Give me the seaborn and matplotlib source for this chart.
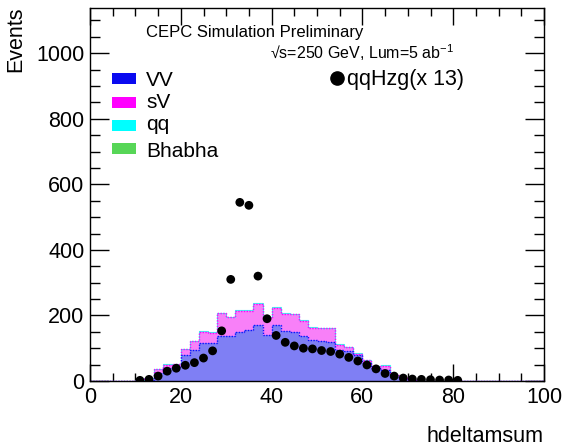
import numpy as np
import pandas as pd
import matplotlib
matplotlib.use("Agg")
import matplotlib.pyplot as plt
import seaborn as sns
from matplotlib.patches import Rectangle
from matplotlib.lines import Line2D
from matplotlib.ticker import MultipleLocator

# Binning: 50 bins of width 2 between 0 and 100
edges = list(range(0, 101, 2))
centers = [e + 1 for e in edges[:-1]]

# Background yields per bin
vv = [0, 0, 0, 0, 0, 1, 4, 25, 40, 42,
      78, 95, 115, 115, 138, 136, 151, 156, 172, 140,
      172, 153, 148, 136, 125, 122, 120, 95, 92, 78,
      56, 41, 35, 13, 5, 2, 1, 0, 0, 0,
      0, 0, 0, 0, 0, 0, 0, 0, 0, 0]
sv = [0, 0, 0, 0, 0, 1, 4, 11, 10, 10,
      20, 27, 35, 31, 68, 58, 63, 59, 64, 53,
      52, 52, 55, 48, 38, 39, 42, 16, 11, 5,
      7, 4, 12, 4, 4, 1, 0, 0, 0, 0,
      0, 0, 0, 0, 0, 0, 0, 0, 0, 0]
qq = [0, 0, 0, 0, 0, 0, 0, 1, 1, 1,
      1, 1, 2, 2, 2, 2, 2, 2, 2, 2,
      2, 2, 2, 2, 1, 1, 1, 1, 1, 1,
      1, 1, 1, 1, 0, 0, 0, 0, 0, 0,
      0, 0, 0, 0, 0, 0, 0, 0, 0, 0]

# Signal qqHzg scaled by 13
sig = [0, 0, 0, 0, 0, 2, 5, 15, 30, 39,
       48, 56, 70, 92, 153, 310, 545, 536, 320, 190,
       139, 118, 107, 100, 98, 93, 90, 82, 72, 61,
       49, 37, 23, 15, 9, 6, 5, 4, 3, 3,
       2, 0, 0, 0, 0, 0, 0, 0, 0, 0]

legend_names = ["VV", "sV", "qq", "Bhabha"]
legend_colors = ["#0a0af0", "#ff00ff", "#00ffff", "#57d657"]
fill_colors = {"VV": "#7f7ff4", "sV": "#f880f8", "qq": "#80f7f7"}

sns.set_theme(style="ticks")
plt.rcParams["font.family"] = ["Liberation Sans", "DejaVu Sans"]
plt.rcParams["mathtext.fontset"] = "custom"
plt.rcParams["mathtext.rm"] = "Liberation Sans"
plt.rcParams["mathtext.it"] = "Liberation Sans:italic"
plt.rcParams["text.color"] = "black"
plt.rcParams["axes.edgecolor"] = "black"
plt.rcParams["xtick.color"] = "black"
plt.rcParams["ytick.color"] = "black"

W, H = 563, 447
def fx(px):
    return px / W
def fy(py):
    return 1 - py / H

fig = plt.figure(figsize=(W / 100, H / 100), dpi=100)
ax = fig.add_axes([fx(90), fy(381), (544 - 90) / W, (381 - 8) / H])

df = pd.concat([
    pd.DataFrame({"x": centers, "n": vv, "proc": "VV"}),
    pd.DataFrame({"x": centers, "n": sv, "proc": "sV"}),
    pd.DataFrame({"x": centers, "n": qq, "proc": "qq"}),
], ignore_index=True)
sns.histplot(data=df, x="x", weights="n", hue="proc",
             hue_order=["qq", "sV", "VV"], multiple="stack",
             bins=edges, element="step", palette=fill_colors,
             alpha=1, linewidth=0, legend=False, ax=ax)

# outlines of each stacked layer
cum_vv = np.array(vv)
cum_sv = cum_vv + np.array(sv)
cum_qq = cum_sv + np.array(qq)
ax.stairs(cum_qq, edges, color="#40f0f0", lw=0.8)
ax.stairs(cum_sv, edges, color="#ff00ff", lw=1, ls=(0, (1, 1)))
ax.stairs(cum_vv, edges, color="#1010ff", lw=1, ls=(0, (1, 1)))

sig_arr = np.array(sig)
cen_arr = np.array(centers)
mask = sig_arr > 0
sns.scatterplot(x=cen_arr[mask], y=sig_arr[mask], color="black", s=40,
                edgecolor="none", zorder=5, ax=ax)

ax.set_xlim(0, 100)
ax.set_ylim(0, 1138)
ax.set_xlabel("")
ax.set_ylabel("")
ax.xaxis.set_major_locator(MultipleLocator(20))
ax.xaxis.set_minor_locator(MultipleLocator(5))
ax.yaxis.set_major_locator(MultipleLocator(200))
ax.yaxis.set_minor_locator(MultipleLocator(50))
ax.tick_params(which="both", direction="in", top=True, right=True,
               labelsize=15.5, width=1)
ax.tick_params(axis="x", which="major", length=12, pad=4)
ax.tick_params(axis="x", which="minor", length=6)
ax.tick_params(axis="y", which="major", length=14, pad=4)
ax.tick_params(axis="y", which="minor", length=7)
for s in ax.spines.values():
    s.set_linewidth(1)
    s.set_color("black")

fig.text(fx(16), fy(7), "Events", rotation=90, ha="center", va="top", fontsize=15.5)
fig.text(fx(544), fy(442), "hdeltamsum", ha="right", va="baseline", fontsize=15.5)

fig.text(fx(146), fy(36.7), "CEPC Simulation Preliminary", ha="left",
         va="baseline", fontsize=12)
fig.text(fx(270), fy(59.3), "√s=250 GeV, Lum=5 ab$^{-1}$", ha="left",
         va="baseline", fontsize=11.5)

# background legend
patch_tops = [72.7, 97.3, 120, 143.3]
label_base = [86, 108.5, 130, 156.7]
for name, col, top, base in zip(legend_names, legend_colors, patch_tops, label_base):
    fig.patches.append(Rectangle((fx(112), fy(top + 11)), 24 / W, 11 / H,
                                 transform=fig.transFigure, facecolor=col,
                                 edgecolor="none"))
    fig.text(fx(146), fy(base), name, ha="left", va="baseline", fontsize=15)

# signal legend
fig.add_artist(Line2D([fx(336.7)], [fy(78.3)], marker="o", color="black",
                      markersize=9.5, transform=fig.transFigure, lw=0))
fig.text(fx(347), fy(85), "qqHzg(x 13)", ha="left", va="baseline", fontsize=15.5)

fig.savefig("out.png", dpi=100)
